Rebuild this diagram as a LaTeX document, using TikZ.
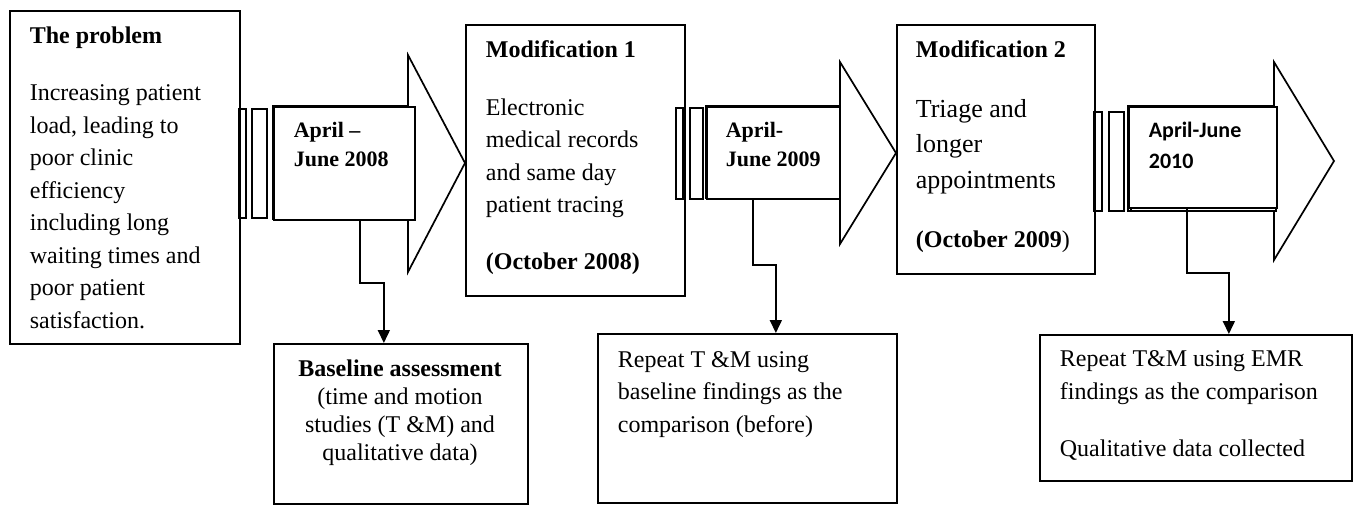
\documentclass[tikz,border=0pt]{standalone}
\usepackage{fontspec}
\setmainfont{Liberation Serif}
\newfontfamily\calibri{Carlito}
\usetikzlibrary{positioning,arrows.meta}

\tikzset{
	box/.style={draw, line width=1.7pt, fill=white, inner sep=0pt, anchor=north west},
	txt/.style={inner sep=0pt, align=left, anchor=base west, font=\fontsize{24}{32.5}\selectfont},
	datetxt/.style={inner sep=0pt, align=left, anchor=base west, font=\fontsize{22}{29}\selectfont\bfseries},
	conn/.style={line width=1.7pt, -{Triangle[length=13pt,width=12pt]}},
}

\begin{document}
\begin{tikzpicture}[x=1pt, y=-1pt, line width=1.7pt]
	\useasboundingbox (0,0) rectangle (1355,504);

	% The problem (texts sit on the baseline of their last line)
	\node[box, minimum width=230, minimum height=333] (prob) at (9,10) {};
	\node[txt] (probtxt) at (29,328) {\textbf{The problem}\\[24.5pt]Increasing patient\\load, leading to\\poor clinic\\efficiency\\including long\\waiting times and\\poor patient\\satisfaction.};

	% First period
	\draw (239,109) rectangle (246,218);
	\draw (252,109) rectangle (267,218);
	\draw (273,106) -- (408,106) -- (408,55) -- (465,163) -- (408,272) -- (408,219) -- (273,219) -- cycle;
	\node[box, minimum width=141, minimum height=113] (date1) at (273,106) {};
	\node[datetxt] (date1txt) at (293,166) {April --\\June 2008};

	% Modification 1
	\node[box, minimum width=219, minimum height=271] (mod1) at (465,24) {};
	\node[txt] (mod1txt) at (485,269) {\textbf{Modification 1}\\[25.5pt]Electronic\\medical records\\and same day\\patient tracing\\[24pt]\textbf{(October 2008)}};

	% Second period
	\draw (676,108) rectangle (683,199);
	\draw (690,108) rectangle (703,199);
	\draw (706,106) -- (840,106) -- (840,62) -- (896,153) -- (840,244) -- (840,198) -- (706,198) -- cycle;
	\node[box, minimum width=133, minimum height=92] (date2) at (706,106) {};
	\node[datetxt] (date2txt) at (725,166) {April-\\June 2009};

	% Modification 2
	\node[box, minimum width=198, minimum height=249] (mod2) at (896,24) {};
	\node[txt, font=\fontsize{26}{35.5}\selectfont] (mod2txt) at (915,247) {{\fontsize{24}{24}\selectfont\bfseries Modification 2}\\[24.5pt]Triage and\\longer\\appointments\\[23.5pt]{\fontsize{24}{24}\selectfont\bfseries (October 2009}{\fontsize{24}{24}\selectfont)}};

	% Third period
	\draw (1094,112) rectangle (1102,211);
	\draw (1109,112) rectangle (1124,211);
	\draw (1128,106) -- (1274,106) -- (1274,62) -- (1334,161) -- (1274,260) -- (1274,211) -- (1128,211) -- cycle;
	\draw[fill=white] (1131,110) rectangle (1276,211);
	\node[box, minimum width=148, minimum height=101] (date3) at (1128,106) {};
	\node[datetxt, font=\fontsize{22}{31}\calibri\bfseries] (date3txt) at (1148,168) {April-June\\2010};

	% Assessments
	\node[box, minimum width=254, minimum height=160] (base) at (273,343) {};
	\node[inner sep=0pt, align=center, anchor=base, font=\fontsize{24}{28}\selectfont] (basetxt) at (400,460) {\textbf{Baseline assessment}\\(time and motion\\studies (T \&M) and\\qualitative data)};

	\node[box, minimum width=299, minimum height=169] (rep1) at (597,333) {};
	\node[txt] (rep1txt) at (617,432) {Repeat T \&M using\\baseline findings as the\\comparison (before)};

	\node[box, minimum width=312, minimum height=146] (rep2) at (1039,334) {};
	\node[txt] (rep2txt) at (1059,456) {Repeat T\&M using EMR\\findings as the comparison\\[24.5pt]Qualitative data collected};

	% Connectors
	\draw[conn] ([xshift=15.5]date1.south) -- ++(0,62) -| ([xshift=-17]base.north);
	\draw[conn] ([xshift=-20.5]date2.south) -- ++(0,65) -| ([xshift=28.5]rep1.north);
	\draw[conn] ([xshift=-16]date3.south) -- ++(0,64) -| ([xshift=33]rep2.north);
\end{tikzpicture}
\end{document}
